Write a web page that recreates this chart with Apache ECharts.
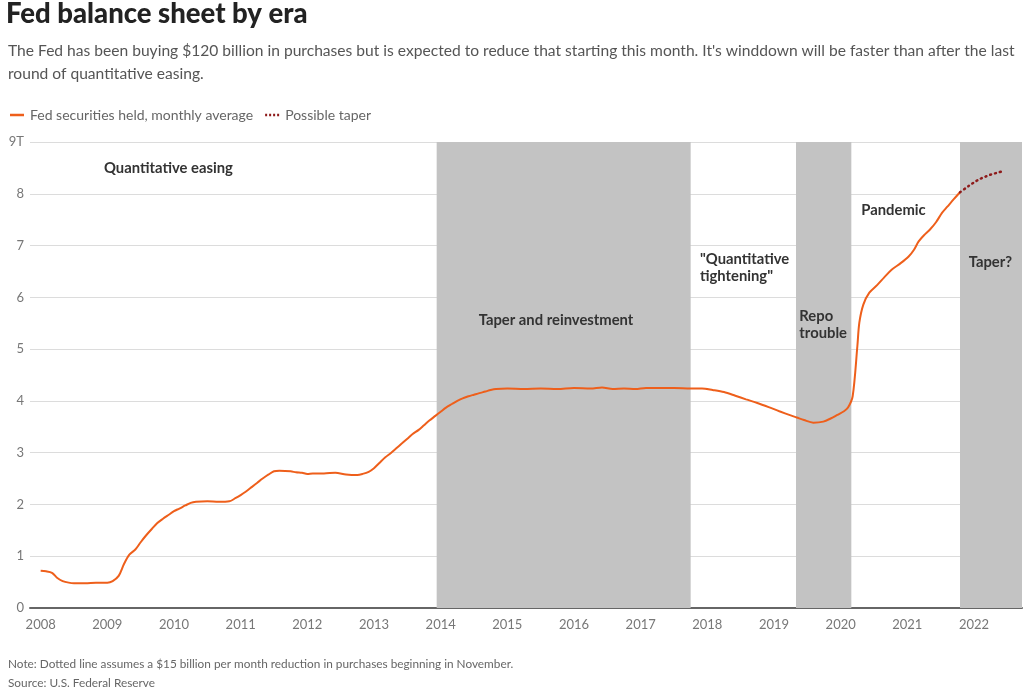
<!DOCTYPE html>
<html><head><meta charset="utf-8">
<script src="https://cdn.jsdelivr.net/npm/echarts@6/dist/echarts.min.js"></script>
<style>html,body{margin:0;padding:0;background:#fff}#c{width:1027px;height:691px}</style>
</head><body><div id="c"></div>
<script>
// Fed securities held, monthly average (trillions) - [decimal year]
const heldDates = [2008.00,2008.08,2008.17,2008.25,2008.33,2008.42,2008.50,2008.67,2008.83,2009.00,2009.08,2009.17,2009.25,2009.33,2009.42,2009.50,2009.58,2009.67,2009.75,2009.83,2009.92,
2010.00,2010.08,2010.17,2010.25,2010.33,2010.50,2010.67,2010.83,2010.92,2011.00,2011.08,2011.17,2011.25,2011.33,2011.42,2011.50,2011.58,2011.75,2011.83,2011.92,
2012.00,2012.08,2012.25,2012.42,2012.58,2012.75,2012.83,2012.92,2013.00,2013.08,2013.17,2013.25,2013.33,2013.42,2013.50,2013.58,2013.67,2013.75,2013.83,2013.92,
2014.00,2014.08,2014.17,2014.25,2014.33,2014.42,2014.50,2014.58,2014.67,2014.75,2014.83,2015.00,2015.25,2015.50,2015.75,2016.00,2016.25,2016.42,2016.58,2016.75,2016.92,2017.08,2017.25,2017.50,2017.75,
2017.92,2018.08,2018.25,2018.42,2018.58,2018.75,2018.92,2019.08,2019.25,2019.34,2019.45,2019.59,2019.74,2019.85,2019.95,2020.05,2020.11,2020.18,2020.25,2020.28,2020.34,2020.43,2020.55,2020.65,2020.76,2020.90,
2021.02,2021.10,2021.17,2021.25,2021.34,2021.43,2021.52,2021.60,2021.70,2021.79];
const heldValues = [0.72,0.71,0.68,0.58,0.52,0.49,0.48,0.48,0.49,0.49,0.52,0.62,0.85,1.03,1.13,1.27,1.40,1.53,1.64,1.72,1.80,
1.87,1.92,1.98,2.03,2.05,2.06,2.05,2.06,2.12,2.18,2.25,2.34,2.42,2.50,2.58,2.64,2.65,2.64,2.62,2.61,
2.59,2.60,2.60,2.61,2.58,2.57,2.59,2.63,2.70,2.80,2.91,2.99,3.08,3.18,3.27,3.36,3.44,3.53,3.62,3.71,
3.79,3.87,3.94,4.00,4.05,4.09,4.12,4.15,4.18,4.21,4.23,4.24,4.23,4.24,4.23,4.25,4.24,4.26,4.23,4.24,4.23,4.25,4.25,4.25,4.24,
4.24,4.21,4.17,4.10,4.03,3.96,3.88,3.80,3.72,3.68,3.63,3.58,3.60,3.66,3.73,3.80,3.87,4.09,5.05,5.51,5.86,6.09,6.24,6.38,6.53,6.66,
6.79,6.92,7.08,7.20,7.31,7.45,7.63,7.75,7.90,8.03];
// Possible taper (dotted)
const taperDates = [2021.79,2021.92,2022.00,2022.08,2022.17,2022.25,2022.33,2022.42];
const taperValues = [8.03,8.15,8.22,8.28,8.33,8.37,8.40,8.43];
// Shaded eras
const eraBands = [[2013.94,2017.75],[2019.33,2020.16],[2021.79,2022.72]];
const eraLabels = [
  {text:'Quantitative easing', x:2008.95, y:8.49},
  {text:'Taper and reinvestment', x:2014.57, y:5.55},
  {text:'"Quantitative\ntightening"', x:2017.89, y:6.57},
  {text:'Repo\ntrouble', x:2019.38, y:5.48},
  {text:'Pandemic', x:2020.31, y:7.68},
  {text:'Taper?', x:2021.92, y:6.67}
];
const yearTicks = [2008,2009,2010,2011,2012,2013,2014,2015,2016,2017,2018,2019,2020,2021,2022];

const zip = (a,b)=>a.map((v,i)=>[v,b[i]]);
const FONT = 'Lato, "Open Sans", sans-serif';
const chart = echarts.init(document.getElementById('c'));
chart.setOption({
  animation:false,
  textStyle:{fontFamily:FONT},
  title:[
    {text:'Fed balance sheet by era', left:6, top:0, padding:0, textStyle:{fontFamily:FONT,fontSize:27.5,fontWeight:900,color:'#222'}},
    {text:"The Fed has been buying $120 billion in purchases but is expected to reduce that starting this month. It's winddown will be faster than after the last\nround of quantitative easing.", left:8, top:39, padding:0, textStyle:{fontFamily:FONT,fontSize:15.6,fontWeight:'normal',color:'#555',lineHeight:23}},
    {text:'Note: Dotted line assumes a $15 billion per month reduction in purchases beginning in November.\nSource: U.S. Federal Reserve', left:8, top:655, padding:0, textStyle:{fontFamily:FONT,fontSize:11.8,fontWeight:'normal',color:'#666',lineHeight:19}}
  ],
  legend:{left:10, top:108, padding:0, itemWidth:14, itemHeight:2.5, itemGap:12, textStyle:{fontFamily:FONT,fontSize:14,color:'#666',padding:[0,0,0,1]},
    data:[
      {name:'Fed securities held, monthly average', icon:'path://M0,0H14V2.5H0Z', itemStyle:{color:'#ee5f1b'}},
      {name:'Possible taper', icon:'path://M0,0h2v2.5h-2zM4,0h2v2.5h-2zM8,0h2v2.5h-2zM12,0h2v2.5h-2z', itemStyle:{color:'#8e1b1b'}}
    ]},
  grid:{left:30, right:5, top:142, bottom:83},
  xAxis:{type:'value', min:2007.84, max:2022.72,
    axisLine:{lineStyle:{color:'#666',width:2}}, axisTick:{show:false}, splitLine:{show:false},
    axisLabel:{customValues:yearTicks, color:'#777', fontSize:13, margin:10, fontFamily:FONT, formatter:v=>String(v)}},
  yAxis:{type:'value', min:0, max:9, interval:1,
    axisLine:{show:false}, axisTick:{show:false},
    splitLine:{lineStyle:{color:'#dcdcdc',width:1}},
    axisLabel:{color:'#777', fontSize:13, margin:6, fontFamily:FONT, formatter:v=>v===9?'9T':String(v)}},
  series:[
    {name:'Fed securities held, monthly average', type:'line', data:zip(heldDates,heldValues), showSymbol:false, symbol:'none',
     smooth:0.3, lineStyle:{color:'#ee5f1b',width:2}, itemStyle:{color:'#ee5f1b'}, z:5,
     markArea:{silent:true, itemStyle:{color:'#c3c3c3'}, data:eraBands.map(b=>[{xAxis:b[0]},{xAxis:b[1]}])},
     markPoint:{silent:true, symbol:'circle', symbolSize:0,
       label:{show:true, position:'right', distance:0, color:'#333', fontWeight:'bold', fontSize:14.8, lineHeight:17, fontFamily:FONT, formatter:p=>p.name},
       data:eraLabels.map(l=>({name:l.text, coord:[l.x,l.y]}))}},
    {name:'Possible taper', type:'line', data:zip(taperDates,taperValues), showSymbol:false, symbol:'none', smooth:0.3,
     lineStyle:{color:'#8e1b1b',width:2.5,type:[1,4],cap:'round'}, itemStyle:{color:'#8e1b1b'}, z:6}
  ]
});
</script></body></html>
